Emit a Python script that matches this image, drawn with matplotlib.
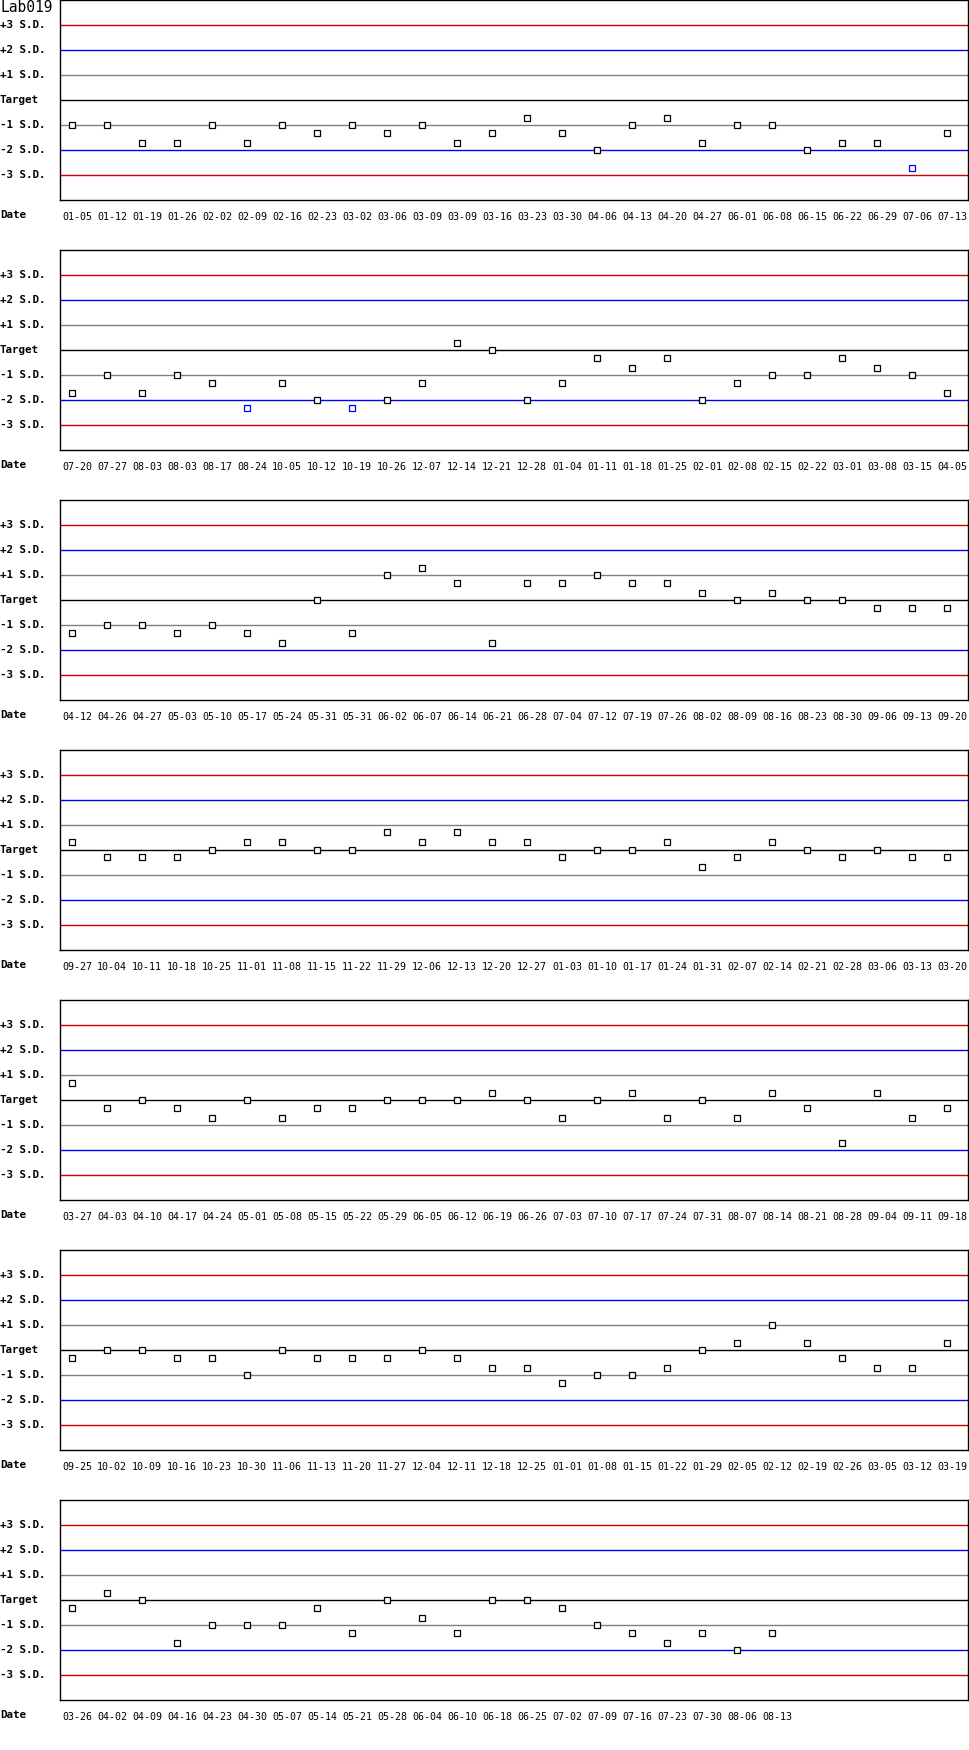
import matplotlib
matplotlib.use('Agg')
import matplotlib.pyplot as plt
import matplotlib.transforms as mtransforms

# one list of dates and one list of z-scores (in S.D. from target) per panel
dates1 = ['01-05', '01-12', '01-19', '01-26', '02-02', '02-09', '02-16', '02-23', '03-02', '03-06',
          '03-09', '03-09', '03-16', '03-23', '03-30', '04-06', '04-13', '04-20', '04-27', '06-01',
          '06-08', '06-15', '06-22', '06-29', '07-06', '07-13']
z1 = [-1, -1, -1.7, -1.7, -1, -1.7, -1, -1.3, -1, -1.3,
      -1, -1.7, -1.3, -0.7, -1.3, -2, -1, -0.7, -1.7, -1,
      -1, -2, -1.7, -1.7, -2.7, -1.3]

dates2 = ['07-20', '07-27', '08-03', '08-03', '08-17', '08-24', '10-05', '10-12', '10-19', '10-26',
          '12-07', '12-14', '12-21', '12-28', '01-04', '01-11', '01-18', '01-25', '02-01', '02-08',
          '02-15', '02-22', '03-01', '03-08', '03-15', '04-05']
z2 = [-1.7, -1, -1.7, -1, -1.3, -2.3, -1.3, -2, -2.3, -2,
      -1.3, 0.3, 0, -2, -1.3, -0.3, -0.7, -0.3, -2, -1.3,
      -1, -1, -0.3, -0.7, -1, -1.7]

dates3 = ['04-12', '04-26', '04-27', '05-03', '05-10', '05-17', '05-24', '05-31', '05-31', '06-02',
          '06-07', '06-14', '06-21', '06-28', '07-04', '07-12', '07-19', '07-26', '08-02', '08-09',
          '08-16', '08-23', '08-30', '09-06', '09-13', '09-20']
z3 = [-1.3, -1, -1, -1.3, -1, -1.3, -1.7, 0, -1.3, 1,
      1.3, 0.7, -1.7, 0.7, 0.7, 1, 0.7, 0.7, 0.3, 0,
      0.3, 0, 0, -0.3, -0.3, -0.3]

dates4 = ['09-27', '10-04', '10-11', '10-18', '10-25', '11-01', '11-08', '11-15', '11-22', '11-29',
          '12-06', '12-13', '12-20', '12-27', '01-03', '01-10', '01-17', '01-24', '01-31', '02-07',
          '02-14', '02-21', '02-28', '03-06', '03-13', '03-20']
z4 = [0.3, -0.3, -0.3, -0.3, 0, 0.3, 0.3, 0, 0, 0.7,
      0.3, 0.7, 0.3, 0.3, -0.3, 0, 0, 0.3, -0.7, -0.3,
      0.3, 0, -0.3, 0, -0.3, -0.3]

dates5 = ['03-27', '04-03', '04-10', '04-17', '04-24', '05-01', '05-08', '05-15', '05-22', '05-29',
          '06-05', '06-12', '06-19', '06-26', '07-03', '07-10', '07-17', '07-24', '07-31', '08-07',
          '08-14', '08-21', '08-28', '09-04', '09-11', '09-18']
z5 = [0.7, -0.3, 0, -0.3, -0.7, 0, -0.7, -0.3, -0.3, 0,
      0, 0, 0.3, 0, -0.7, 0, 0.3, -0.7, 0, -0.7,
      0.3, -0.3, -1.7, 0.3, -0.7, -0.3]

dates6 = ['09-25', '10-02', '10-09', '10-16', '10-23', '10-30', '11-06', '11-13', '11-20', '11-27',
          '12-04', '12-11', '12-18', '12-25', '01-01', '01-08', '01-15', '01-22', '01-29', '02-05',
          '02-12', '02-19', '02-26', '03-05', '03-12', '03-19']
z6 = [-0.3, 0, 0, -0.3, -0.3, -1, 0, -0.3, -0.3, -0.3,
      0, -0.3, -0.7, -0.7, -1.3, -1, -1, -0.7, 0, 0.3,
      1, 0.3, -0.3, -0.7, -0.7, 0.3]

dates7 = ['03-26', '04-02', '04-09', '04-16', '04-23', '04-30', '05-07', '05-14', '05-21', '05-28',
          '06-04', '06-10', '06-18', '06-25', '07-02', '07-09', '07-16', '07-23', '07-30', '08-06',
          '08-13']
z7 = [-0.3, 0.3, 0, -1.7, -1, -1, -1, -0.3, -1.3, 0,
      -0.7, -1.3, 0, 0, -0.3, -1, -1.3, -1.7, -1.3, -2,
      -1.3]

panels = [(dates1, z1), (dates2, z2), (dates3, z3), (dates4, z4),
          (dates5, z5), (dates6, z6), (dates7, z7)]

sd_levels = [3, 2, 1, 0, -1, -2, -3]
sd_labels = ['+3 S.D.', '+2 S.D.', '+1 S.D.', 'Target', '-1 S.D.', '-2 S.D.', '-3 S.D.']
sd_colors = ['#d00000', '#0000ff', '#808080', '#000000', '#808080', '#0000ff', '#d00000']

W, H = 970, 1750
fig = plt.figure(figsize=(W / 100, H / 100), dpi=100)

mono = 'DejaVu Sans Mono'
fig.text(0, 1 - 8 / H, 'Lab019', ha='left', va='center', fontsize=10.5, family=mono)

for k, (dates, z) in enumerate(panels):
    top = 250 * k
    ax = fig.add_axes([60 / W, 1 - (top + 200) / H, 908 / W, 200 / H])
    ax.set_xlim(-12 / 35, 25 + 21 / 35)
    ax.set_ylim(-4, 4)
    ax.set_xticks([])
    ax.set_yticks([])
    for s in ax.spines.values():
        s.set_linewidth(1.0)
        s.set_color('black')

    for lev, col in zip(sd_levels, sd_colors):
        ax.axhline(lev, color=col, lw=1.0, zorder=1)

    xs = list(range(len(z)))
    for x, v in zip(xs, z):
        ec = '#0000ff' if abs(v) > 2 else 'black'
        ax.plot(x, v, 's', ms=5, mfc='white', mec=ec, mew=0.9, zorder=3)

    # left labels
    tr = mtransforms.blended_transform_factory(fig.transFigure, ax.transData)
    for lev, lab in zip(sd_levels, sd_labels):
        ax.text(0, lev, lab, transform=tr, ha='left', va='center',
                fontsize=7.8, family=mono, fontweight='bold')

    fig.text(0, 1 - (top + 215) / H, 'Date', ha='left', va='center',
             fontsize=7.8, family=mono, fontweight='bold')

    trx = mtransforms.blended_transform_factory(ax.transData, ax.transAxes)
    for x, d in zip(xs, dates):
        ax.text(x + 5 / 35, -17 / 200, d, transform=trx, ha='center', va='center',
                fontsize=7.2, family=mono)

fig.savefig('out.png', dpi=100)
